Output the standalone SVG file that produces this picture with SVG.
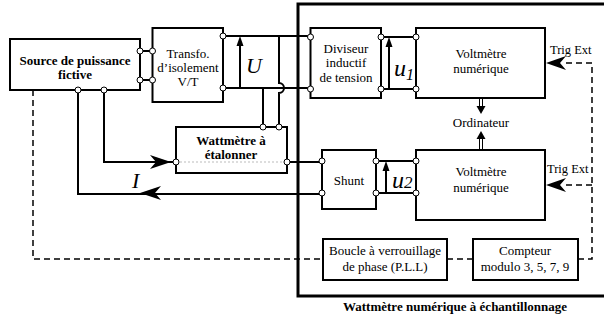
<svg xmlns="http://www.w3.org/2000/svg" width="604" height="322" viewBox="0 0 604 322">
<defs>
<style>
.box{fill:#fff;stroke:#000;stroke-width:2}
.ln{fill:none;stroke:#000;stroke-width:2}
.ds{fill:none;stroke:#000;stroke-width:1.5;stroke-dasharray:6,4}
.term{fill:#fff;stroke:#000;stroke-width:1}
text{font-family:'Liberation Serif','Times New Roman','DejaVu Serif',serif}
.t{font-size:13px;text-anchor:middle;fill:#000}
.s{font-size:12.5px;text-anchor:start}
.b{font-weight:bold}
.it{font-style:italic;fill:#000}
.ah{fill:#000;stroke:none}
</style>
</defs>
<rect width="604" height="322" fill="#fff"/>
<g id="connectors">
<path class="ln" d="M140,51H152M140,80H152"/>
<path class="ln" d="M223,36H310M223,88H310"/>
<path class="ln" d="M279,36V83A5,5 0 0 1 279,93V127"/>
<path class="ln" d="M263,88V127"/>
<path class="ln" d="M240,88V42"/>
<polygon class="ah" points="240,36 236.5,46 243.5,46"/>
<path class="ln" d="M104,90V162H176"/>
<polygon class="ah" points="171,162 150,155 156,162 150,169"/>
<path class="ln" d="M78,90V194H322"/>
<polygon class="ah" points="140,193 161,186 155,193 161,200"/>
<path class="ln" d="M287,162H322"/>
<path class="ln" d="M381,37H416M381,89H416"/>
<path class="ln" d="M389,89V43"/>
<polygon class="ah" points="389,37 385.5,47 392.5,47"/>
<path class="ln" d="M376,161H416M376,193H416"/>
<path class="ln" d="M386,193V167"/>
<polygon class="ah" points="386,161 382.5,171 389.5,171"/>
<path fill="none" stroke="#000" stroke-width="1" d="M479.5,98V107M482.5,98V107M479.5,139V150M482.5,139V150"/>
<polygon class="ah" points="481,114 476.5,106 485.5,106"/>
<polygon class="ah" points="481,131 476.5,139 485.5,139"/>
<path class="ds" d="M33,90V259H323M447,259H473M578,259H592V63H562M592,185H562"/>
<polygon class="ah" points="546,63 566,56 560,63 566,70"/>
<polygon class="ah" points="546,185 566,178 560,185 566,192"/>
</g>
<g id="wattmetre-numerique">
<path fill="none" stroke="#000" stroke-width="3" d="M606,4H298V296H606"/>
<text class="t b" x="455" y="311">Wattmètre numérique à échantillonnage</text>
</g>
<g id="source">
<rect class="box" x="10" y="39" width="130" height="51" stroke-width="2.5"/>
<text class="t b" x="75" y="65">Source de puissance</text>
<text class="t b" x="75" y="79">fictive</text>
<circle class="term" cx="140" cy="51" r="3"/>
<circle class="term" cx="140" cy="80" r="3"/>
<circle class="term" cx="78" cy="90" r="3"/>
<circle class="term" cx="104" cy="90" r="3"/>
</g>
<g id="transfo">
<rect class="box" x="152.5" y="28" width="70.5" height="74" stroke-width="1.5"/>
<text class="t" x="188" y="58">Transfo.</text>
<text class="t" x="188" y="72">d’isolement</text>
<text class="t" x="188" y="86">V/T</text>
<circle class="term" cx="152.5" cy="51" r="3"/>
<circle class="term" cx="152.5" cy="80" r="3"/>
<circle class="term" cx="223" cy="36" r="3"/>
<circle class="term" cx="223" cy="88" r="3"/>
</g>
<text class="it" x="246" y="73" font-size="22">U</text>
<g id="wattmetre-etalonner">
<rect class="box" x="176" y="127" width="111" height="46"/>
<path fill="none" stroke="#bbb" stroke-width="1" stroke-dasharray="2,2" d="M176,162H287"/>
<text class="t b" x="231" y="145">Wattmètre à</text>
<text class="t b" x="231" y="159">étalonner</text>
<circle class="term" cx="263" cy="127" r="3"/>
<circle class="term" cx="279" cy="127" r="3"/>
<circle class="term" cx="176" cy="162" r="3"/>
<circle class="term" cx="287" cy="162" r="3"/>
</g>
<text class="it" x="132" y="188" font-size="22">I</text>
<g id="diviseur">
<rect class="box" x="310.5" y="28" width="70.5" height="70"/>
<text class="t" x="346" y="53">Diviseur</text>
<text class="t" x="346" y="67">inductif</text>
<text class="t" x="346" y="82">de tension</text>
<circle class="term" cx="310.5" cy="37" r="3"/>
<circle class="term" cx="310.5" cy="89" r="3"/>
<circle class="term" cx="381" cy="37" r="3"/>
<circle class="term" cx="381" cy="89" r="3"/>
</g>
<text class="it" x="394" y="76" font-size="24">u<tspan font-size="16" dy="4">1</tspan></text>
<g id="voltmetre1">
<rect class="box" x="416" y="28" width="129" height="70"/>
<text class="t" x="481" y="58">Voltmètre</text>
<text class="t" x="481" y="73">numérique</text>
<circle class="term" cx="416" cy="37" r="3"/>
<circle class="term" cx="416" cy="89" r="3"/>
</g>
<text class="t s" x="550" y="54">Trig Ext</text>
<text class="t" x="481" y="127">Ordinateur</text>
<g id="shunt">
<rect class="box" x="322" y="150" width="54" height="59"/>
<text class="t" x="349" y="185">Shunt</text>
<circle class="term" cx="322" cy="161" r="3"/>
<circle class="term" cx="322" cy="193" r="3"/>
<circle class="term" cx="376" cy="161" r="3"/>
<circle class="term" cx="376" cy="193" r="3"/>
</g>
<text class="it" x="392" y="188" font-size="24">u<tspan font-size="17" dy="0">2</tspan></text>
<g id="voltmetre2">
<rect class="box" x="416" y="150" width="129" height="70"/>
<text class="t" x="481" y="176">Voltmètre</text>
<text class="t" x="481" y="192">numérique</text>
<circle class="term" cx="416" cy="161" r="3"/>
<circle class="term" cx="416" cy="193" r="3"/>
</g>
<text class="t s" x="547" y="173">Trig Ext</text>
<g id="boucle">
<rect class="box" x="323" y="239" width="124" height="41"/>
<text class="t" x="385" y="255">Boucle à verrouillage</text>
<text class="t" x="385" y="271">de phase (P.L.L)</text>
</g>
<g id="compteur">
<rect class="box" x="473" y="239" width="105" height="41"/>
<text class="t" x="525" y="255">Compteur</text>
<text class="t" x="525" y="271">modulo 3, 5, 7, 9</text>
</g>
</svg>
